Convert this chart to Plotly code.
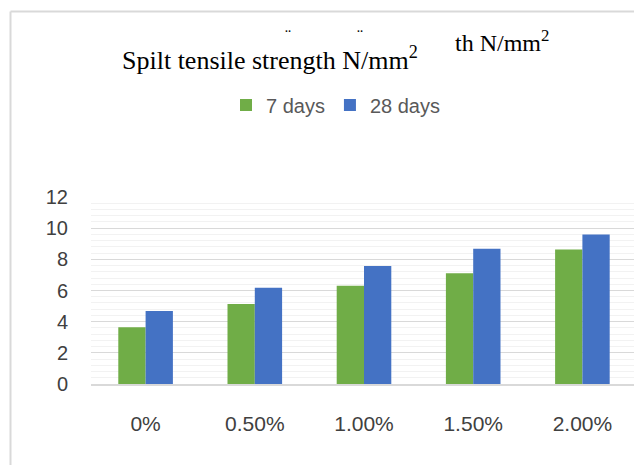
import plotly.graph_objects as go

# data
categories = ['0%', '0.50%', '1.00%', '1.50%', '2.00%']
days_7 = [3.64, 5.14, 6.30, 7.11, 8.63]
days_28 = [4.69, 6.17, 7.58, 8.68, 9.60]
series_names = ['7 days', '28 days']
y_ticks = [0, 2, 4, 6, 8, 10, 12]

W, H = 642, 465
# the page body adds an 8px margin, so aim everything 8px up/left
OFF = 8
# plot area in pixels (reference coordinates)
L, R, T, B = 91 - OFF, 637 - OFF, 197 - OFF, 384 - OFF


def px_x(px):
    # reference pixel -> paper x
    return (px - OFF - L) / (R - L)


def px_y(py):
    # reference pixel -> paper y
    return (B - (py - OFF)) / (B - T)


fig = go.Figure()
fig.add_trace(go.Bar(x=categories, y=days_7, name=series_names[0],
                     marker=dict(color='#70AD47', line=dict(width=0))))
fig.add_trace(go.Bar(x=categories, y=days_28, name=series_names[1],
                     marker=dict(color='#4472C4', line=dict(width=0))))

fig.update_layout(
    width=W, height=H,
    margin=dict(l=L, r=W - R, t=T, b=H - B),
    paper_bgcolor='white',
    plot_bgcolor='white',
    barmode='group',
    bargap=0.5,
    bargroupgap=0,
    font=dict(family='Liberation Sans, Arial', color='#404040'),
    title=dict(text='Spilt tensile strength N/mm<sup>2</sup>',
               font=dict(family='Liberation Serif, Times New Roman', size=26, color='black'),
               xref='container', x=(122 - OFF) / W, xanchor='left',
               yref='container', y=1 - (60 - OFF) / H, yanchor='middle'),
    legend=dict(orientation='h', xref='container', yref='container',
                x=(226 - OFF) / W, xanchor='left', y=1 - (105 - OFF) / H, yanchor='middle',
                font=dict(size=20, color='#595959'),
                itemclick=False),
)

fig.update_yaxes(range=[0, 12], tickvals=y_ticks, showgrid=True,
                 gridcolor='#d9d9d9', gridwidth=1, zeroline=False,
                 tickfont=dict(size=20, color='#404040'),
                 ticklabelstandoff=22,
                 minor=dict(dtick=0.4, showgrid=True, gridcolor='#f2f2f2', gridwidth=1))
fig.update_xaxes(showline=True, linecolor='#d9d9d9', linewidth=2,
                 tickfont=dict(size=21, color='#404040'),
                 ticklabelstandoff=20)

# fragment of an overlapping second title, as in the reference
fig.add_annotation(text='th N/mm<sup>2</sup>', xref='paper', yref='paper',
                   x=px_x(453), y=px_y(41), xanchor='left', yanchor='middle',
                   showarrow=False,
                   font=dict(family='Liberation Serif, Times New Roman', size=24, color='black'))
for dx in [288, 360]:
    fig.add_annotation(text='¨', xref='paper', yref='paper',
                       x=px_x(dx), y=px_y(36), xanchor='center', yanchor='middle',
                       showarrow=False,
                       font=dict(family='Liberation Serif', size=18, color='black'))

# chart border (top and left)
fig.add_shape(type='line', xref='paper', yref='paper',
              x0=px_x(10.5), x1=px_x(W + 20), y0=px_y(11.5), y1=px_y(11.5),
              line=dict(color='#d9d9d9', width=2))
fig.add_shape(type='line', xref='paper', yref='paper',
              x0=px_x(10.5), x1=px_x(10.5), y0=px_y(11.5), y1=px_y(H + 20),
              line=dict(color='#d9d9d9', width=2))

fig.write_html("out.html")
